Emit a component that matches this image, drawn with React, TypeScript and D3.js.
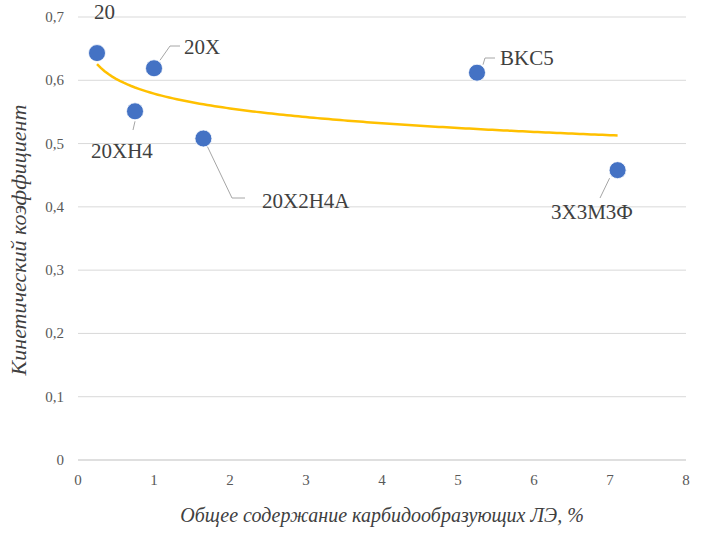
import React from "react";
import * as d3 from "d3";

const names = ["20", "20X", "20XH4", "20X2H4A", "BKC5", "3X3M3Ф"];
const xs = [0.25, 1.0, 0.75, 1.65, 5.25, 7.1];
const ys = [0.643, 0.619, 0.551, 0.508, 0.612, 0.458];
const xTicks = [0, 1, 2, 3, 4, 5, 6, 7, 8];
const yTicks = [0, 0.1, 0.2, 0.3, 0.4, 0.5, 0.6, 0.7];

export default function App() {
  const W = 708, H = 534;
  const x = d3.scaleLinear().domain([0, 8]).range([78, 686]);
  const y = d3.scaleLinear().domain([0, 0.7]).range([460, 17]);
  const lx = xs.map(Math.log);
  const mx = d3.mean(lx)!, my = d3.mean(ys)!;
  const b = d3.sum(lx.map((v, i) => (v - mx) * (ys[i] - my))) / d3.sum(lx.map(v => (v - mx) ** 2));
  const a = my - b * mx;
  const tx = d3.range(0.25, 7.1001, 0.05);
  const line = d3.line<number>().x(v => x(v)).y(v => y(a + b * Math.log(v)));
  const font = "Times New Roman, Liberation Serif, DejaVu Serif, serif";
  const labelXY: [number, number][] = [[94, 19], [184, 54], [91, 158], [262, 208], [500, 65], [551, 219]];
  const leaders: [number, number, number, number, number, number][] = [
    [0, 0, 0, 0, 0, 0],
    [x(1.0) + 6, y(0.619) - 8, 170, 46, 180, 46],
    [x(0.75), y(0.551) + 10, 133, 130, 133, 130],
    [x(1.65) + 4, y(0.508) + 8, 232, 198, 245, 198],
    [x(5.25) + 6, y(0.612) - 8, 485, 58, 495, 58],
    [x(7.1) - 8, y(0.458) + 8, 600, 198, 600, 198],
  ];
  return (
    <svg width={W} height={H} style={{ display: "block", position: "absolute", left: 0, top: 0 }}>
      <rect width={W} height={H} fill="#fff" />
      {yTicks.map(t => (
        <g key={t}>
          <line x1={78} x2={686} y1={y(t)} y2={y(t)} stroke={t === 0 ? "#bfbfbf" : "#d9d9d9"} />
          <text x={64} y={y(t) + 5} textAnchor="end" fontFamily={font} fontSize={15} fill="#595959">
            {t === 0 ? "0" : t.toFixed(1).replace(".", ",")}
          </text>
        </g>
      ))}
      {xTicks.map(t => (
        <text key={t} x={x(t)} y={485} textAnchor="middle" fontFamily={font} fontSize={15} fill="#595959">{t}</text>
      ))}
      <path d={line(tx)!} fill="none" stroke="#ffc000" strokeWidth={2.5} />
      {leaders.slice(1).map((l, i) => (
        <polyline key={i} points={`${l[0]},${l[1]} ${l[2]},${l[3]} ${l[4]},${l[5]}`} fill="none" stroke="#a6a6a6" strokeWidth={1} />
      ))}
      {xs.map((v, i) => (
        <circle key={i} cx={x(v)} cy={y(ys[i])} r={8.5} fill="#4472c4" stroke="#fff" strokeWidth={0.8} />
      ))}
      {names.map((n, i) => (
        <text key={n} x={labelXY[i][0]} y={labelXY[i][1]} fontFamily={font} fontSize={21} fill="#404040">{n}</text>
      ))}
      <text x={382} y={522} textAnchor="middle" fontFamily={font} fontStyle="italic" fontSize={20} fill="#404040">
        Общее содержание карбидообразующих ЛЭ, %
      </text>
      <text transform="translate(26,240) rotate(-90)" textAnchor="middle" fontFamily={font} fontStyle="italic" fontSize={22} fill="#404040">
        Кинетический коэффициент
      </text>
    </svg>
  );
}
